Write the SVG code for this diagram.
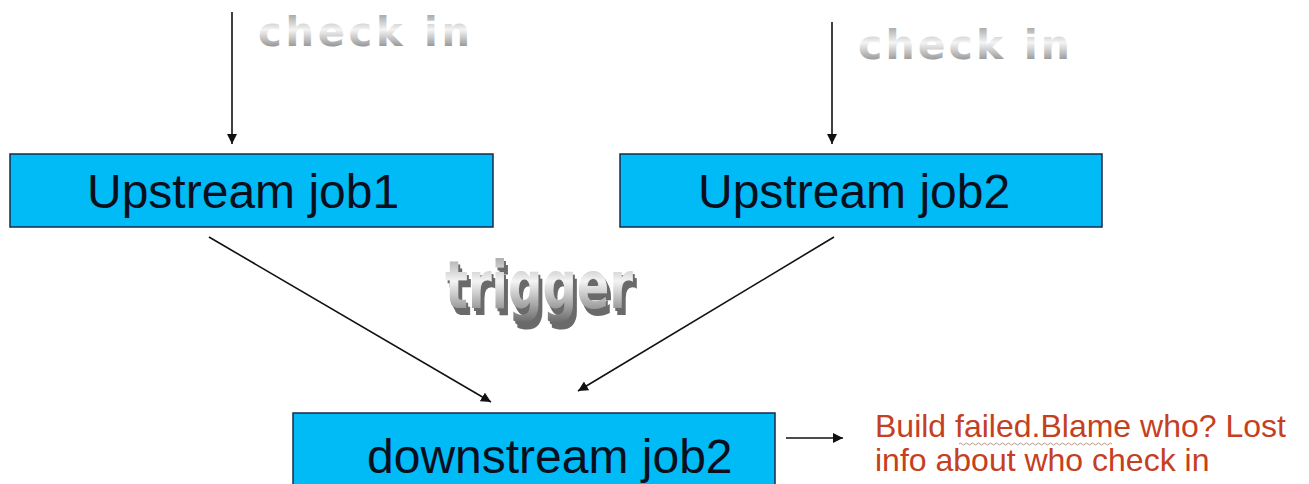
<svg xmlns="http://www.w3.org/2000/svg" width="1309" height="484" viewBox="0 0 1309 484">
  <defs>
    <style>
      .box { fill: #00BBF5; stroke: #1B2A48; stroke-width: 1.5; }
      .lbl { font-family: "Liberation Sans", Arial, sans-serif; font-size: 48px; fill: #0A0F1E; }
      .conn { stroke: #111; stroke-width: 1.6; fill: none; marker-end: url(#ah); }
      .wa { font-family: "DejaVu Sans", "Liberation Sans", sans-serif; font-weight: bold; fill: url(#metal); }
      .note { font-family: "Liberation Sans", Arial, sans-serif; font-size: 32px; fill: #C4401E; }
    </style>
    <marker id="ah" viewBox="0 0 10 10" refX="10" refY="5" markerWidth="10" markerHeight="10" markerUnits="userSpaceOnUse" orient="auto">
      <path d="M0,0 L10,5 L0,10 Z" fill="#111"/>
    </marker>
    <linearGradient id="metal" x1="0" y1="0" x2="0" y2="1">
      <stop offset="0" stop-color="#8c8c8c"/>
      <stop offset="0.45" stop-color="#f4f4f4"/>
      <stop offset="0.6" stop-color="#cfcfcf"/>
      <stop offset="1" stop-color="#666666"/>
    </linearGradient>
    <filter id="extrude" x="-10%" y="-10%" width="130%" height="140%">
      <feFlood flood-color="#6a6a6a" result="c"/>
      <feComposite in="c" in2="SourceAlpha" operator="in" result="sh"/>
      <feOffset in="sh" dx="2" dy="2" result="o1"/>
      <feOffset in="sh" dx="4" dy="4" result="o2"/>
      <feMerge>
        <feMergeNode in="o2"/>
        <feMergeNode in="o1"/>
        <feMergeNode in="SourceGraphic"/>
      </feMerge>
    </filter>
  </defs>

  <rect width="1309" height="484" fill="#ffffff"/>

  <g id="connectors">
    <line class="conn" x1="232" y1="12" x2="232" y2="144"/>
    <line class="conn" x1="832" y1="22" x2="832" y2="144"/>
    <line class="conn" x1="209" y1="237" x2="491" y2="402"/>
    <line class="conn" x1="834" y1="237" x2="578" y2="391"/>
    <line class="conn" x1="786" y1="438" x2="843" y2="438"/>
  </g>

  <g id="checkin1">
    <text class="wa" x="258" y="46" font-size="40" textLength="212" lengthAdjust="spacing">check in</text>
  </g>
  <g id="checkin2">
    <text class="wa" x="858" y="59" font-size="41" textLength="212" lengthAdjust="spacing">check in</text>
  </g>

  <g id="trigger">
    <g transform="translate(445,308) scale(1,1.65)">
      <text class="wa" x="0" y="0" font-size="40" textLength="188" lengthAdjust="spacingAndGlyphs" filter="url(#extrude)">trigger</text>
    </g>
  </g>

  <g id="upstream1">
    <rect class="box" x="10" y="154" width="483" height="73"/>
    <text class="lbl" x="87" y="208">Upstream job1</text>
  </g>

  <g id="upstream2">
    <rect class="box" x="620" y="154" width="482" height="73"/>
    <text class="lbl" x="698" y="208">Upstream job2</text>
  </g>

  <g id="downstream">
    <rect class="box" x="293" y="413" width="482" height="80"/>
    <text class="lbl" x="367" y="473">downstream job2</text>
  </g>

  <g id="note">
    <text class="note" x="875" y="437">Build failed.Blame who? Lost</text>
    <text class="note" x="875" y="471">info about who check in</text>
    <path d="M959,444 q1.5,-2 3,0 t3,0 t3,0 t3,0 t3,0 t3,0 t3,0 t3,0 t3,0 t3,0 t3,0 t3,0 t3,0 t3,0 t3,0 t3,0 t3,0 t3,0 t3,0 t3,0 t3,0 t3,0 t3,0 t3,0 t3,0 t3,0 t3,0 t3,0 t3,0 t3,0 t3,0 t3,0 t3,0 t3,0 t3,0 t3,0 t3,0 t3,0 t3,0 t3,0 t3,0 t3,0 t3,0 t3,0 t3,0 t3,0 t3,0 t3,0 t3,0 t3,0 t3,0" fill="none" stroke="#a08070" stroke-width="0.8"/>
  </g>
</svg>
